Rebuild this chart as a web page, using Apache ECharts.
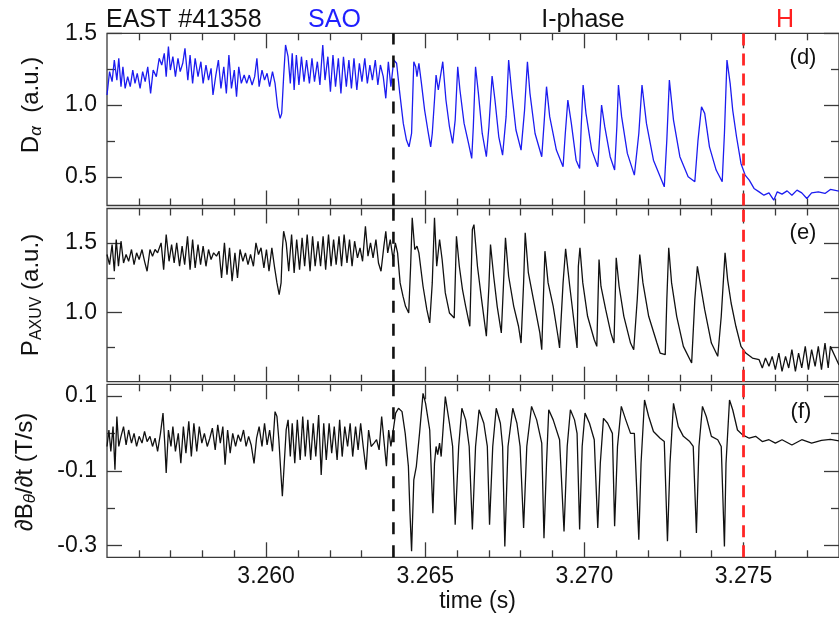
<!DOCTYPE html>
<html><head><meta charset="utf-8">
<script src="https://cdn.jsdelivr.net/npm/echarts@6/dist/echarts.min.js"></script>
<style>html,body{margin:0;padding:0;background:#fff}#c{width:839px;height:617px}</style>
</head><body><div id="c"></div>
<script>
// ---- D-alpha (panel d) ----
const dAlphaTime = [
3.25500,3.25508,3.25516,3.25523,3.25531,3.25537,3.25544,3.25550,3.25557,3.25565,
3.25573,3.25581,3.25588,3.25595,3.25604,3.25612,3.25620,3.25628,3.25637,3.25645,
3.25655,3.25664,3.25672,3.25680,3.25686,3.25693,3.25699,3.25707,3.25715,3.25723,
3.25730,3.25738,3.25745,3.25754,3.25761,3.25769,3.25777,3.25786,3.25795,3.25802,
3.25811,3.25819,3.25827,3.25833,3.25842,3.25850,3.25858,3.25867,3.25875,3.25883,
3.25891,3.25900,3.25907,3.25914,3.25922,3.25931,3.25939,3.25947,3.25956,3.25964,
3.25971,3.25978,3.25987,3.25995,3.26003,3.26011,3.26020,3.26028,3.26036,3.26044,
3.26049,3.26055,3.26061,3.26069,3.26076,3.26082,3.26088,3.26095,3.26103,3.26111,
3.26119,3.26127,3.26136,3.26144,3.26152,3.26161,3.26169,3.26178,3.26185,3.26194,
3.26202,3.26210,3.26218,3.26227,3.26235,3.26243,3.26252,3.26260,3.26268,3.26276,
3.26285,3.26293,3.26301,3.26310,3.26318,3.26326,3.26334,3.26343,3.26351,3.26359,
3.26368,3.26376,3.26384,3.26392,3.26401,
3.26410,3.26420,3.26431,3.26441,3.26449,3.26457,3.26464,3.26470,3.26474,3.26480,
3.26488,3.26498,3.26508,3.26517,3.26522,3.26529,3.26534,3.26541,3.26555,3.26565,
3.26576,3.26586,3.26594,3.26602,3.26609,3.26622,3.26636,3.26646,3.26651,3.26658,
3.26667,3.26679,3.26692,3.26700,3.26710,3.26719,3.26731,3.26743,3.26754,3.26762,
3.26772,3.26785,3.26801,3.26812,3.26821,3.26829,3.26845,3.26866,3.26874,3.26881,
3.26891,3.26912,3.26933,3.26940,3.26948,3.26959,3.26974,3.26985,3.26990,3.26996,
3.27005,3.27023,3.27042,3.27048,3.27054,3.27064,3.27081,3.27095,3.27102,3.27107,
3.27117,3.27135,3.27157,3.27171,3.27181,3.27195,3.27217,3.27251,3.27259,3.27267,
3.27280,3.27300,3.27326,3.27347,3.27357,3.27368,3.27378,3.27393,3.27414,3.27433,
3.27440,3.27448,3.27458,3.27466,3.27478,3.27492,3.27505,3.27518,3.27533,3.27549,
3.27564,3.27580,3.27595,3.27606,3.27621,3.27637,3.27652,3.27668,3.27683,3.27699,
3.27714,3.27735,3.27756,3.27773,3.27800];
const dAlphaValue = [
1.070,1.233,1.163,1.314,1.174,1.326,1.128,1.267,1.116,1.198,
1.128,1.244,1.151,1.221,1.116,1.233,1.163,1.267,1.081,1.244,
1.198,1.326,1.279,1.360,1.198,1.407,1.244,1.337,1.198,1.326,
1.233,1.291,1.395,1.174,1.349,1.151,1.326,1.198,1.302,1.151,
1.279,1.174,1.256,1.070,1.209,1.314,1.116,1.267,1.081,1.349,
1.116,1.244,1.058,1.267,1.151,1.209,1.151,1.209,1.140,1.198,
1.326,1.128,1.244,1.174,1.221,1.128,1.233,1.151,0.988,0.907,
0.942,1.198,1.419,1.337,1.151,1.360,1.105,1.349,1.140,1.337,
1.163,1.314,1.151,1.326,1.163,1.302,1.140,1.419,1.174,1.337,
1.093,1.349,1.128,1.326,1.081,1.337,1.128,1.314,1.116,1.326,
1.105,1.291,1.163,1.326,1.151,1.279,1.174,1.314,1.140,1.279,
1.198,1.047,1.302,1.128,1.314,
1.291,1.081,0.872,0.756,0.709,0.802,1.302,1.267,1.198,1.291,
1.151,0.965,0.826,0.709,0.802,1.035,1.209,1.105,1.302,1.035,
0.849,0.733,0.895,1.267,1.105,0.872,0.733,0.628,0.849,1.267,
1.081,0.802,0.640,0.849,1.202,1.035,0.779,0.651,0.919,1.314,
1.081,0.826,0.686,0.965,1.302,1.081,0.802,0.640,0.895,1.128,
0.919,0.686,0.570,0.802,1.035,0.872,0.616,0.558,0.849,1.140,
0.942,0.686,0.570,0.779,1.000,0.849,0.640,0.547,0.849,1.140,
0.919,0.663,0.512,0.802,1.140,0.872,0.616,0.430,0.756,1.174,
0.895,0.640,0.500,0.465,0.756,0.988,0.942,0.709,0.547,0.465,
0.802,1.314,1.151,0.965,0.779,0.593,0.512,0.477,0.419,0.395,
0.372,0.388,0.337,0.395,0.379,0.402,0.372,0.407,0.388,0.349,
0.388,0.395,0.384,0.412,0.400];

// ---- P_AXUV (panel e) ----
const pAxuvTime = [
3.25500,3.25508,3.25516,3.25523,3.25529,3.25536,3.25544,3.25552,3.25560,3.25568,
3.25577,3.25585,3.25593,3.25601,3.25610,3.25618,3.25626,3.25635,3.25643,3.25651,
3.25659,3.25670,3.25678,3.25686,3.25695,3.25703,3.25711,3.25719,3.25728,3.25736,
3.25744,3.25753,3.25761,3.25769,3.25777,3.25786,3.25794,3.25802,3.25811,3.25819,
3.25827,3.25835,3.25844,3.25852,3.25860,3.25869,3.25877,3.25885,3.25893,3.25902,
3.25910,3.25918,3.25927,3.25935,3.25943,3.25951,3.25960,3.25968,3.25976,3.25984,
3.25993,3.26001,3.26009,3.26018,3.26026,3.26034,3.26041,3.26047,3.26051,3.26055,
3.26063,3.26071,3.26080,3.26088,3.26096,3.26105,3.26113,3.26121,3.26129,3.26138,
3.26146,3.26154,3.26163,3.26171,3.26179,3.26187,3.26196,3.26204,3.26212,3.26220,
3.26229,3.26237,3.26245,3.26254,3.26262,3.26270,3.26278,3.26287,3.26295,3.26303,
3.26312,3.26320,3.26328,3.26336,3.26345,3.26353,3.26361,3.26370,3.26376,3.26382,
3.26390,3.26399,3.26406,3.26413,3.26421,3.26430,3.26438,3.26448,
3.26454,3.26459,3.26467,3.26474,3.26480,3.26493,3.26505,3.26514,3.26522,3.26529,
3.26536,3.26545,3.26553,3.26563,3.26576,3.26591,3.26598,3.26607,3.26617,3.26627,
3.26640,3.26648,3.26653,3.26664,3.26677,3.26692,3.26700,3.26705,3.26715,3.26726,
3.26739,3.26746,3.26752,3.26762,3.26778,3.26793,3.26801,3.26809,3.26814,3.26824,
3.26840,3.26860,3.26866,3.26871,3.26876,3.26886,3.26902,3.26917,3.26922,3.26933,
3.26941,3.26954,3.26969,3.26977,3.26981,3.26986,3.26995,3.27010,3.27031,3.27039,
3.27046,3.27052,3.27067,3.27083,3.27093,3.27100,3.27109,3.27124,3.27145,3.27155,
3.27166,3.27174,3.27184,3.27202,3.27228,3.27238,3.27254,3.27259,3.27265,3.27274,
3.27290,3.27311,3.27337,3.27347,3.27355,3.27362,3.27378,3.27399,3.27419,3.27430,
3.27442,3.27450,3.27461,3.27476,3.27492,3.27507,3.27528,3.27549,3.27559,3.27569,
3.27580,3.27590,3.27600,3.27611,3.27621,3.27632,3.27642,3.27652,3.27663,3.27673,
3.27683,3.27694,3.27704,3.27714,3.27725,3.27735,3.27745,3.27756,3.27766,3.27773,
3.27800];
const pAxuvValue = [
1.418,1.345,1.490,1.297,1.526,1.333,1.514,1.357,1.418,1.369,
1.454,1.345,1.430,1.382,1.454,1.369,1.297,1.454,1.406,1.454,
1.430,1.502,1.309,1.562,1.369,1.490,1.357,1.502,1.333,1.478,
1.345,1.550,1.309,1.526,1.321,1.490,1.345,1.478,1.333,1.454,
1.382,1.430,1.406,1.442,1.249,1.502,1.273,1.466,1.225,1.430,
1.249,1.454,1.369,1.430,1.345,1.418,1.333,1.502,1.418,1.466,
1.321,1.454,1.297,1.466,1.333,1.213,1.129,1.213,1.454,1.586,
1.502,1.297,1.562,1.285,1.526,1.309,1.538,1.333,1.562,1.297,
1.550,1.333,1.514,1.333,1.550,1.309,1.562,1.333,1.526,1.345,
1.550,1.333,1.562,1.357,1.526,1.333,1.514,1.394,1.466,1.369,
1.622,1.406,1.502,1.394,1.526,1.357,1.297,1.478,1.586,1.430,
1.526,1.382,1.502,1.430,1.213,1.117,1.044,0.996,
1.333,1.683,1.454,1.478,1.430,1.189,1.020,0.924,1.213,1.683,
1.333,1.526,1.382,1.141,0.996,0.960,1.550,1.333,1.165,1.044,
0.900,1.598,1.634,1.333,1.092,0.828,1.189,1.490,1.261,1.044,
0.852,1.213,1.538,1.261,1.044,0.900,0.779,1.213,1.574,1.285,
1.092,0.852,0.731,1.092,1.442,1.213,1.044,0.828,0.743,1.213,
1.459,1.189,0.900,0.743,1.333,1.466,1.213,0.972,0.803,0.755,
1.382,1.189,1.020,0.852,0.779,1.394,1.189,0.972,0.779,0.731,
1.092,1.418,1.213,0.972,0.779,0.707,0.695,1.092,1.466,1.213,
0.972,0.755,0.635,1.092,1.333,1.237,1.020,0.779,0.683,0.972,
1.430,1.237,1.068,0.900,0.755,0.707,0.671,0.659,0.599,0.671,
0.611,0.683,0.587,0.707,0.575,0.683,0.599,0.731,0.575,0.707,
0.599,0.755,0.587,0.731,0.611,0.755,0.587,0.779,0.599,0.755,
0.620];

// ---- dB_theta/dt (panel f) ----
const dBdtTime = [
3.25500,3.25506,3.25512,3.25519,3.25525,3.25531,3.25537,3.25544,3.25552,3.25560,
3.25568,3.25577,3.25585,3.25593,3.25601,3.25610,3.25618,3.25626,3.25635,3.25643,
3.25651,3.25659,3.25668,3.25676,3.25682,3.25686,3.25693,3.25701,3.25707,3.25715,
3.25724,3.25732,3.25740,3.25748,3.25757,3.25765,3.25773,3.25782,3.25790,3.25798,
3.25806,3.25815,3.25823,3.25831,3.25840,3.25848,3.25856,3.25864,3.25871,3.25879,
3.25887,3.25895,3.25904,3.25912,3.25920,3.25929,3.25937,3.25945,3.25953,3.25962,
3.25970,3.25978,3.25987,3.25995,3.26003,3.26011,3.26020,3.26028,3.26034,3.26040,
3.26047,3.26051,3.26057,3.26063,3.26069,3.26076,3.26082,3.26090,3.26098,3.26107,
3.26115,3.26123,3.26131,3.26140,3.26148,3.26156,3.26165,3.26173,3.26181,3.26189,
3.26198,3.26206,3.26214,3.26223,3.26231,3.26239,3.26247,3.26256,3.26264,3.26272,
3.26281,3.26289,3.26297,3.26305,3.26314,3.26322,3.26330,3.26339,3.26347,3.26355,
3.26363,3.26372,3.26378,3.26385,3.26392,3.26401,3.26407,3.26416,3.26427,3.26437,
3.26447,3.26452,3.26457,
3.26464,3.26472,3.26482,3.26493,3.26501,3.26514,3.26524,3.26529,3.26534,3.26539,
3.26545,3.26550,3.26563,3.26576,3.26586,3.26594,3.26605,3.26615,3.26627,3.26638,
3.26648,3.26658,3.26669,3.26684,3.26695,3.26702,3.26712,3.26723,3.26736,3.26743,
3.26750,3.26760,3.26775,3.26788,3.26798,3.26809,3.26819,3.26834,3.26850,3.26866,
3.26873,3.26881,3.26888,3.26902,3.26922,3.26936,3.26946,3.26956,3.26969,3.26977,
3.26985,3.26993,3.27002,3.27016,3.27031,3.27042,3.27050,3.27060,3.27073,3.27088,
3.27095,3.27104,3.27116,3.27130,3.27145,3.27157,3.27171,3.27178,3.27189,3.27202,
3.27217,3.27238,3.27251,3.27261,3.27269,3.27280,3.27295,3.27311,3.27331,3.27342,
3.27352,3.27360,3.27371,3.27383,3.27399,3.27419,3.27430,3.27440,3.27445,3.27456,
3.27466,3.27481,3.27497,3.27518,3.27538,3.27559,3.27580,3.27600,3.27621,3.27652,
3.27683,3.27714,3.27745,3.27773,3.27800];
const dBdtValue = [
-0.035,0.009,-0.048,0.018,-0.097,0.045,-0.035,-0.008,0.018,-0.031,
0.009,-0.026,0.000,-0.035,-0.008,-0.026,0.005,-0.022,-0.008,-0.035,
-0.013,-0.048,0.000,0.054,-0.035,-0.106,0.009,-0.035,0.018,-0.048,
0.000,-0.080,0.018,-0.053,0.032,-0.062,0.027,-0.048,0.018,-0.026,
0.000,-0.035,-0.013,0.014,-0.044,0.023,-0.026,0.018,-0.084,0.009,
-0.053,0.000,-0.035,-0.004,-0.022,0.009,-0.035,-0.008,-0.031,-0.080,
-0.013,0.018,-0.035,0.027,-0.031,0.009,-0.048,0.058,0.045,-0.017,
-0.115,-0.168,-0.080,0.009,0.036,-0.062,0.027,-0.080,0.036,-0.071,
0.045,-0.062,0.036,-0.071,0.027,-0.062,0.049,-0.111,0.027,-0.071,
0.027,-0.053,0.018,-0.071,0.036,-0.062,0.018,-0.035,0.027,-0.062,
0.018,-0.044,0.027,-0.035,-0.097,0.009,-0.035,-0.026,-0.017,-0.044,
0.045,-0.035,-0.088,0.009,-0.035,0.018,0.054,0.067,0.058,0.000,
-0.088,-0.213,-0.315,
-0.124,-0.088,0.000,0.107,0.080,0.009,-0.213,-0.080,-0.035,-0.057,
-0.026,-0.062,0.098,0.027,-0.035,-0.244,-0.035,0.067,0.036,-0.035,
-0.257,-0.035,0.063,0.027,-0.035,-0.244,-0.035,0.067,0.027,-0.035,
-0.302,-0.035,0.067,0.027,-0.035,-0.253,-0.035,0.072,0.036,-0.026,
-0.280,-0.080,0.063,0.036,-0.017,-0.262,-0.035,0.063,0.036,0.000,
-0.257,-0.035,0.054,0.027,-0.017,-0.253,-0.080,0.040,0.027,0.000,
-0.248,-0.035,0.072,0.036,0.000,0.000,-0.284,-0.080,0.089,0.045,
0.005,-0.013,-0.022,-0.288,-0.080,0.080,0.018,-0.008,-0.022,-0.035,
-0.266,-0.035,0.072,0.045,-0.008,-0.017,-0.035,-0.302,-0.080,0.089,
0.063,0.009,-0.004,-0.013,-0.008,-0.022,-0.017,-0.026,-0.017,-0.031,
-0.017,-0.026,-0.019,-0.016,-0.020];

// ---- axes / annotations ----
const xRange = [3.255, 3.278];
const xTicksMajor = [3.260, 3.265, 3.270, 3.275];
const xTicksMinor = [3.256,3.257,3.258,3.259,3.261,3.262,3.263,3.264,3.266,3.267,3.268,3.269,3.271,3.272,3.273,3.274,3.276,3.277];
const yRanges = [[0.30, 1.50], [0.50, 1.75], [-0.331, 0.131]];
const yTicksMajor = [[0.5, 1.0, 1.5], [1.0, 1.5], [-0.3, -0.1, 0.1]];
const yTicksMinor = [[0.75, 1.25], [0.75, 1.25], [-0.2, 0.0]];
const phaseTimes = [3.264, 3.275];

const FONT = '"Liberation Sans", Arial, Helvetica, sans-serif';
const FRAME = '#3a3a3a';
const grids = [
  {top: 33.3, height: 172.2},
  {top: 208.5, height: 173.2},
  {top: 384.3, height: 173}
];

function zip(t, v) { const n = Math.min(t.length, v.length); const out = []; for (let i = 0; i < n; i++) out.push([t[i], v[i]]); return out; }

const xAxes = [], yAxes = [];
grids.forEach((g, gi) => {
  const bx = {type: 'value', gridIndex: gi, min: xRange[0], max: xRange[1],
    axisLine: {show: false, onZero: false}, splitLine: {show: false}};
  const tickStyle = {color: FRAME, width: 1.3};
  xAxes.push(Object.assign({}, bx, {position: 'bottom',
    axisTick: {show: true, inside: true, length: 15, customValues: xTicksMajor, lineStyle: tickStyle},
    axisLabel: {show: gi === 2, customValues: xTicksMajor, formatter: v => v.toFixed(3), margin: 8,
      fontSize: 23, color: '#111', fontFamily: FONT}}));
  xAxes.push(Object.assign({}, bx, {position: 'bottom',
    axisTick: {show: true, inside: true, length: 7, customValues: xTicksMinor, lineStyle: tickStyle},
    axisLabel: {show: false}}));
  xAxes.push(Object.assign({}, bx, {position: 'top',
    axisTick: {show: true, inside: true, length: 15, customValues: xTicksMajor, lineStyle: tickStyle},
    axisLabel: {show: false}}));
  xAxes.push(Object.assign({}, bx, {position: 'top',
    axisTick: {show: true, inside: true, length: 7, customValues: xTicksMinor, lineStyle: tickStyle},
    axisLabel: {show: false}}));

  const by = {type: 'value', gridIndex: gi, min: yRanges[gi][0], max: yRanges[gi][1],
    axisLine: {show: false, onZero: false}, splitLine: {show: false}};
  yAxes.push(Object.assign({}, by, {position: 'left',
    axisTick: {show: true, inside: true, length: 15, customValues: yTicksMajor[gi], lineStyle: tickStyle},
    axisLabel: {show: true, customValues: yTicksMajor[gi], formatter: v => v.toFixed(1), margin: 10,
      fontSize: 23, color: '#111', fontFamily: FONT}}));
  yAxes.push(Object.assign({}, by, {position: 'left',
    axisTick: {show: true, inside: true, length: 8, customValues: yTicksMinor[gi], lineStyle: tickStyle},
    axisLabel: {show: false}}));
  yAxes.push(Object.assign({}, by, {position: 'right',
    axisTick: {show: true, inside: true, length: 15, customValues: yTicksMajor[gi], lineStyle: tickStyle},
    axisLabel: {show: false}}));
  yAxes.push(Object.assign({}, by, {position: 'right',
    axisTick: {show: true, inside: true, length: 8, customValues: yTicksMinor[gi], lineStyle: tickStyle},
    axisLabel: {show: false}}));
});

const seriesDefs = [
  {data: zip(dAlphaTime, dAlphaValue), color: '#1c1cf0'},
  {data: zip(pAxuvTime, pAxuvValue), color: '#111'},
  {data: zip(dBdtTime, dBdtValue), color: '#111'}
];
const series = [];
seriesDefs.forEach((s, gi) => {
  series.push({
    type: 'line', xAxisIndex: gi * 4, yAxisIndex: gi * 4, data: s.data,
    showSymbol: false, symbol: 'none', animation: false, clip: true, z: 2,
    lineStyle: {color: s.color, width: 1.3}
  });
});
// vertical phase boundaries (SAO -> I-phase black, I-phase -> H red)
const phaseStyles = [
  {color: '#111', width: 2.6, type: [12, 11]},
  {color: '#ff2626', width: 2.8, type: [12, 8]}
];
grids.forEach((g, gi) => {
  phaseTimes.forEach((t, k) => {
    series.push({
      type: 'line', xAxisIndex: gi * 4, yAxisIndex: gi * 4,
      data: [[t, yRanges[gi][0]], [t, yRanges[gi][1]]],
      showSymbol: false, symbol: 'none', animation: false, silent: true, z: 3,
      lineStyle: phaseStyles[k]
    });
  });
});

const txt = (x, y, text, size, color, align) => ({
  type: 'text', x: x, y: y, silent: true,
  style: {text: text, fontSize: size, fontFamily: FONT, fill: color,
    align: align, textAlign: align, verticalAlign: 'middle', textVerticalAlign: 'middle'}
});

const rotName = (x, y, parts) => ({
  type: 'text', x: x, y: y, rotation: Math.PI / 2, silent: true,
  style: {
    text: parts, fontFamily: FONT, fontSize: 24, fill: '#111',
    align: 'center', textAlign: 'center', verticalAlign: 'middle', textVerticalAlign: 'middle',
    rich: {
      m: {fontSize: 24, fontFamily: FONT, fill: '#111', lineHeight: 28},
      s: {fontSize: 16, fontFamily: FONT, fill: '#111', lineHeight: 14, verticalAlign: 'bottom'},
      si: {fontSize: 17, fontFamily: FONT, fontStyle: 'italic', fill: '#111', lineHeight: 12, verticalAlign: 'bottom'}
    }
  }
});

const option = {
  backgroundColor: '#ffffff',
  animation: false,
  grid: grids.map(g => ({left: 107, right: -8, top: g.top, height: g.height, show: true,
    borderColor: FRAME, borderWidth: 1.3, backgroundColor: 'transparent', containLabel: false})),
  xAxis: xAxes,
  yAxis: yAxes,
  series: series,
  graphic: [
    txt(106, 20.5, 'EAST #41358', 25, '#111', 'left'),
    txt(334.5, 20.5, 'SAO', 25, '#1f1fff', 'center'),
    txt(583, 20.5, 'I-phase', 25, '#111', 'center'),
    txt(785, 20.5, 'H', 25, '#ff2020', 'center'),
    txt(803, 58, '(d)', 22, '#111', 'center'),
    txt(803, 233, '(e)', 22, '#111', 'center'),
    txt(801, 412, '(f)', 22, '#111', 'center'),
    txt(477.5, 602, 'time (s)', 23, '#111', 'center'),
    rotName(31, 105, '{m|D}{si|α}{m|  (a.u.)}'),
    rotName(31, 295, '{m|P}{s|AXUV}{m| (a.u.)}'),
    rotName(25, 472, '{m|∂B}{si|θ}{m|/∂t (T/s)}')
  ]
};

const chart = echarts.init(document.getElementById('c'), null, {renderer: 'canvas'});
chart.setOption(option);
</script>
</body></html>
